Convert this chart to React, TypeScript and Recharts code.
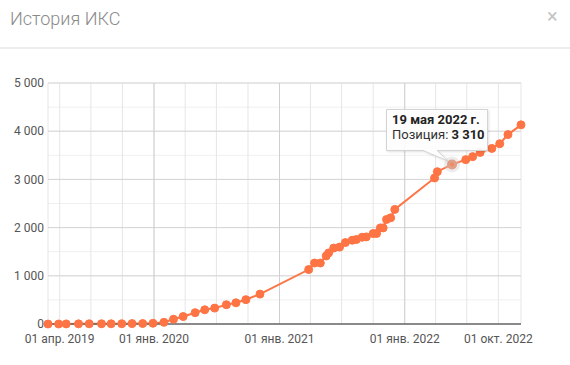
import { LineChart, Line, XAxis, YAxis, CartesianGrid, ReferenceLine, Tooltip } from 'recharts'

const dates = [
  '2019-02-26', '2019-03-29', '2019-04-20', '2019-05-26', '2019-06-26', '2019-08-01', '2019-08-29', '2019-09-29',
  '2019-10-29', '2019-11-29', '2019-12-29',
  '2020-01-30', '2020-02-27', '2020-03-26', '2020-04-30', '2020-05-28', '2020-06-26', '2020-07-30', '2020-08-27',
  '2020-09-25', '2020-11-05',
  '2021-03-27', '2021-04-13', '2021-04-30', '2021-05-17', '2021-05-24', '2021-06-08', '2021-06-25', '2021-07-12',
  '2021-08-01', '2021-08-13', '2021-08-30', '2021-09-11', '2021-10-01', '2021-10-11', '2021-10-22', '2021-10-30',
  '2021-11-09', '2021-11-21', '2021-12-03',
  '2022-03-29', '2022-04-06', '2022-05-19', '2022-06-28', '2022-07-18', '2022-08-09', '2022-09-12', '2022-10-05',
  '2022-10-29', '2022-12-06',
]

const positions = [
  0, 0, 2, 3, 4, 5, 5, 6, 8, 10, 15,
  35, 100, 155, 235, 295, 330, 400, 440, 505, 620,
  1130, 1265, 1265, 1411, 1474, 1575, 1595, 1690, 1738, 1753, 1800, 1807, 1877, 1877, 1994, 1994, 2169, 2203, 2377,
  3030, 3160, 3310, 3410, 3472, 3560, 3643, 3740, 3930, 4132,
]

// quarter starts: grid lines
const xTicks = [
  '2019-04-01', '2019-07-01', '2019-10-01', '2020-01-01', '2020-04-01', '2020-07-01', '2020-10-01',
  '2021-01-01', '2021-04-01', '2021-07-01', '2021-10-01', '2022-01-01', '2022-04-01', '2022-07-01', '2022-10-01',
]
const xLabelled = ['2019-04-01', '2020-01-01', '2021-01-01', '2022-01-01', '2022-10-01']
const xMajor = ['2020-01-01', '2021-01-01', '2022-01-01']

const yTicks = [0, 500, 1000, 1500, 2000, 2500, 3000, 3500, 4000, 4500, 5000]
const yMajor = [1000, 2000, 3000, 4000, 5000]

const monthShort = ['янв.', 'февр.', 'мар.', 'апр.', 'мая', 'июн.', 'июл.', 'авг.', 'сент.', 'окт.', 'нояб.', 'дек.']
const monthGen = ['января', 'февраля', 'марта', 'апреля', 'мая', 'июня', 'июля', 'августа', 'сентября', 'октября', 'ноября', 'декабря']

const tooltipIndex = 42

const ts = (s: string) => Date.parse(s + 'T00:00:00Z')
const fmtNum = (v: number) => String(v).replace(/\B(?=(\d{3})+(?!\d))/g, '\u00a0')

const data = dates.map((d, i) => ({ t: ts(d), pos: positions[i] }))
const labelledTs = xLabelled.map(ts)

const COLOR = '#fe7444'
const FONT = 'Roboto, "Open Sans", sans-serif'

function xLabel(v: number) {
  if (!labelledTs.includes(v)) return ''
  const d = new Date(v)
  return `01 ${monthShort[d.getUTCMonth()]} ${d.getUTCFullYear()}`
}

function yLabel(v: number) {
  return v % 1000 === 0 ? fmtNum(v) : ''
}

function TipBox({ active, payload }: any) {
  if (!active || !payload || !payload.length) return null
  const p = payload[0].payload
  const d = new Date(p.t)
  return (
    <div style={{ position: 'relative', width: 104, height: 56, fontFamily: FONT, fontSize: 13, color: '#222' }}>
      <svg
        width={104}
        height={56}
        style={{ position: 'absolute', left: 0, top: 0, overflow: 'visible', filter: 'drop-shadow(1px 1px 1px rgba(0,0,0,0.12))' }}
      >
        <path
          d="M0.5 0.5 H101.5 V41.5 H51 L62 52 L37 41.5 H0.5 Z"
          fill="rgba(255,255,255,0.92)"
          stroke="#d3d3d3"
        />
      </svg>
      <div style={{ position: 'absolute', left: 6, top: 3, whiteSpace: 'nowrap', lineHeight: '15px' }}>
        <b>{d.getUTCDate()} {monthGen[d.getUTCMonth()]} {d.getUTCFullYear()} г.</b>
        <br />
        <span style={{ color: '#333' }}>Позиция: </span>
        <b>{fmtNum(p.pos)}</b>
      </div>
    </div>
  )
}

export default function App() {
  return (
    <div style={{ position: 'absolute', left: 0, top: 0, width: 570, height: 365, background: '#fff', fontFamily: FONT }}>
      <div style={{ position: 'absolute', left: 10, top: 8, fontSize: 18, fontWeight: 300, color: '#8a8a8a' }}>
        История ИКС
      </div>
      <div style={{ position: 'absolute', left: 547, top: 4, fontSize: 20, color: '#c4c4c4' }}>×</div>
      <div style={{ position: 'absolute', left: 0, top: 47, width: 570, height: 2, background: '#ededed' }} />
      <div style={{ position: 'absolute', left: 0, top: 49 }}>
        <LineChart width={570} height={316} data={data} margin={{ top: 34, right: 49, bottom: 11, left: 0 }}>
          <CartesianGrid horizontal={true} vertical={false} stroke="#f0f0f0" />
          <CartesianGrid horizontal={false} vertical={true} stroke="#e6e6e6" />
          {yMajor.map((y) => (
            <ReferenceLine key={'y' + y} y={y} stroke="#d4d4d4" />
          ))}
          {xMajor.map((x) => (
            <ReferenceLine key={'x' + x} x={ts(x)} stroke="#d0d0d0" />
          ))}
          <XAxis
            dataKey="t"
            type="number"
            domain={['dataMin', 'dataMax']}
            ticks={xTicks.map(ts)}
            interval={0}
            tickFormatter={xLabel}
            tickLine={false}
            tickSize={0}
            tickMargin={10}
            height={30}
            stroke="#666"
            strokeWidth={1.5}
            tick={{ fontSize: 12, fill: '#555', fontFamily: FONT }}
          />
          <YAxis
            type="number"
            domain={[0, 5000]}
            ticks={yTicks}
            interval={0}
            tickFormatter={yLabel}
            axisLine={false}
            tickLine={false}
            tickSize={0}
            tickMargin={4}
            width={48}
            tick={{ fontSize: 12, fill: '#555', fontFamily: FONT }}
          />
          <Tooltip
            content={<TipBox />}
            defaultIndex={tooltipIndex}
            active={true}
            position={{ x: 386, y: 60 }}
            cursor={false}
            isAnimationActive={false}
            wrapperStyle={{ outline: 'none' }}
          />
          <Line
            type="linear"
            dataKey="pos"
            stroke={COLOR}
            strokeWidth={2}
            dot={{ r: 4, fill: COLOR, stroke: COLOR, strokeWidth: 1 }}
            activeDot={{ r: 5, fill: '#f08a66', stroke: 'rgba(200,200,200,0.35)', strokeWidth: 6 }}
            isAnimationActive={false}
          />
        </LineChart>
      </div>
    </div>
  )
}
